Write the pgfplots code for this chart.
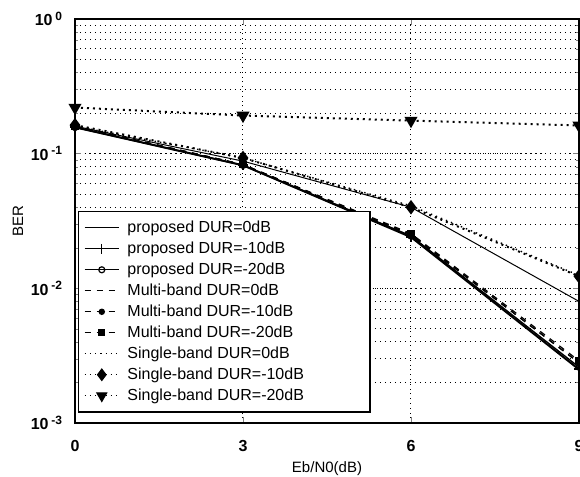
\documentclass[border=0pt]{standalone}
\usepackage{pgfplots}
\pgfplotsset{compat=1.18}
\usepackage{fontspec}
\setmainfont{Liberation Sans}
\begin{document}
\begin{tikzpicture}
\useasboundingbox (-37.5pt,-27pt) rectangle (252.5pt,211.5pt);
\begin{axis}[
  at={(0pt,0pt)}, anchor=south west,
  scale only axis,
  width=252pt, height=202pt,
  ymode=log,
  xmin=0, xmax=9, ymin=1e-3, ymax=1,
  xtick={0,3,6,9}, xticklabels={\textbf{0},\textbf{3},\textbf{6},\textbf{9}},
  ytick={1e-3,1e-2,1e-1,1},
  yticklabels={\textbf{10\,\textsuperscript{-3}},\textbf{10\,\textsuperscript{-2}},\textbf{10\,\textsuperscript{-1}},\textbf{10\,\textsuperscript{0}}},
  tick label style={font=\fontsize{8}{9}\selectfont},
  xticklabel style={yshift=-5pt},
  yticklabel style={xshift=-2.5pt},
  xmajorgrids, ymajorgrids, yminorgrids,
  grid style={black, dotted, line width=0.5pt},
  minor grid style={black, dotted, line width=0.45pt},
  tick align=inside, major tick length=3pt, minor tick length=1.5pt,
  axis line style={black, line width=0.6pt},
  xlabel={Eb/N0(dB)}, ylabel={BER},
  label style={font=\fontsize{7.5}{9}\selectfont},
  xlabel style={yshift=2pt},
  ylabel style={yshift=-3pt},
  legend style={at={(0.005,0.525)}, anchor=north west, draw=black, line width=0.6pt,
    font=\fontsize{8}{9}\selectfont, row sep=-0.8pt, inner xsep=3pt, inner ysep=2.5pt,
    cells={anchor=west}},
  legend image post style={line width=0.6pt},
  every axis plot/.append style={black},
]
\addplot[thin, line width=0.5pt] coordinates {(0,0.16) (3,0.088) (6,0.040) (9,0.0080)};
\addlegendentry{\hspace*{2pt}proposed DUR=0dB}
\addplot[line width=1pt, mark=+, mark size=2.5pt] coordinates {(0,0.157) (3,0.082) (6,0.024) (9,0.0025)};
\addlegendentry{\hspace*{2pt}proposed DUR=-10dB}
\addplot[line width=0.7pt, mark=o, mark size=1.5pt] coordinates {(0,0.157) (3,0.082) (6,0.0245) (9,0.0026)};
\addlegendentry{\hspace*{2pt}proposed DUR=-20dB}
\addplot[dashed, line width=0.6pt] coordinates {(0,0.16) (3,0.083) (6,0.025) (9,0.0028)};
\addlegendentry{\hspace*{2pt}Multi-band DUR=0dB}
\addplot[dashed, line width=0.6pt, mark=*, mark size=1.3pt, mark options={solid}] coordinates {(0,0.16) (3,0.083) (6,0.025) (9,0.0028)};
\addlegendentry{\hspace*{2pt}Multi-band DUR=-10dB}
\addplot[dashed, line width=0.6pt, mark=square*, mark size=1.5pt, mark options={solid}] coordinates {(0,0.16) (3,0.083) (6,0.0255) (9,0.0029)};
\addlegendentry{\hspace*{2pt}Multi-band DUR=-20dB}
\addplot[dotted, line width=0.7pt] coordinates {(0,0.16) (3,0.093) (6,0.041) (9,0.0125)};
\addlegendentry{\hspace*{2pt}Single-band DUR=0dB}
\addplot[dotted, line width=1pt, mark=diamond*, mark size=2.8pt, mark options={solid}] coordinates {(0,0.163) (3,0.093) (6,0.040) (9,0.0123)};
\addlegendentry{\hspace*{2pt}Single-band DUR=-10dB}
\addplot[dotted, line width=1pt, mark=triangle*, mark size=2.8pt, mark options={solid, rotate=180}] coordinates {(0,0.22) (3,0.192) (6,0.176) (9,0.162)};
\addlegendentry{\hspace*{2pt}Single-band DUR=-20dB\hspace*{28pt}}
\end{axis}
\end{tikzpicture}
\end{document}
